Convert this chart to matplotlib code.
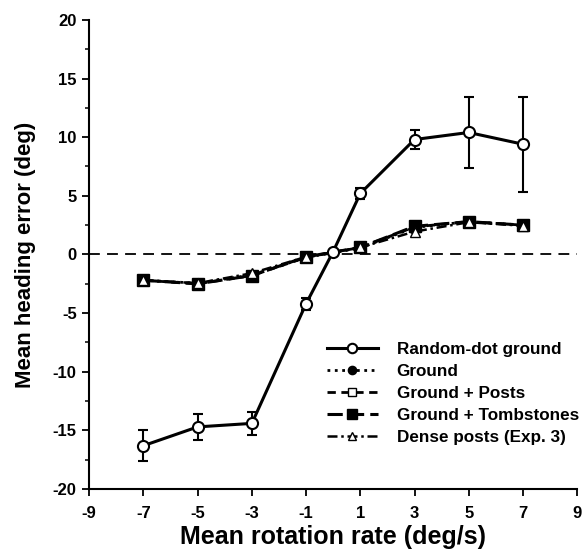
import matplotlib
matplotlib.use('Agg')
from matplotlib import pyplot as plt
from matplotlib.ticker import MultipleLocator

plt.rcParams['font.family'] = ['Liberation Sans', 'DejaVu Sans']
plt.rcParams['font.weight'] = 'bold'
plt.rcParams['axes.unicode_minus'] = False

# data
rot_rd = [-7, -5, -3, -1, 0, 1, 3, 5, 7]
err_rd = [-16.3, -14.7, -14.4, -4.2, 0.25, 5.2, 9.8, 10.4, 9.4]
sem_rd = [1.3, 1.1, 0.95, 0.5, 0.0, 0.45, 0.8, 3.05, 4.05]

rot = [-7, -5, -3, -1, 1, 3, 5, 7]
err_ground = [-2.2, -2.45, -1.75, -0.25, 0.55, 2.3, 2.8, 2.5]
err_posts = [-2.2, -2.5, -1.8, -0.25, 0.6, 2.35, 2.8, 2.5]
err_tomb = [-2.2, -2.5, -1.8, -0.2, 0.6, 2.4, 2.8, 2.5]
err_dense = [-2.2, -2.45, -1.6, -0.2, 0.6, 1.95, 2.75, 2.45]

xticks = [-9, -7, -5, -3, -1, 1, 3, 5, 7, 9]
yticks = [-20, -15, -10, -5, 0, 5, 10, 15, 20]


def main():
	fig = plt.figure(figsize=(5.83, 5.52), dpi=100)
	ax = fig.add_axes([0.153, 0.114, 0.837, 0.85])

	ax.axhline(0, color='black', lw=1.3, ls=(0, (6, 4)), zorder=1)

	l_ground, = ax.plot(rot, err_ground, color='black', lw=2, ls=':', marker='o', ms=7,
		mfc='black', mec='black', label='Ground', zorder=3)
	l_posts, = ax.plot(rot, err_posts, color='black', lw=2, ls=(0, (3, 2)), marker='s', ms=7,
		mfc='white', mec='black', label='Ground + Posts', zorder=3)
	l_tomb, = ax.plot(rot, err_tomb, color='black', lw=2.2, ls=(0, (5, 2)), marker='s', ms=8,
		mfc='black', mec='black', label='Ground + Tombstones', zorder=4)
	l_dense, = ax.plot(rot, err_dense, color='black', lw=1.8, ls=(0, (4, 1.5, 1, 1.5)), marker='^', ms=7,
		mfc='white', mec='black', label='Dense posts (Exp. 3)', zorder=5)

	eb = ax.errorbar(rot_rd, err_rd, yerr=sem_rd, color='black', lw=2.2, marker='o', ms=8,
		mfc='white', mec='black', mew=1.5, capsize=3.5, elinewidth=1.5, capthick=1.5,
		label='Random-dot ground', zorder=6)

	ax.set_xlim(-9, 9)
	ax.set_ylim(-20, 20)
	ax.set_xticks(xticks)
	ax.set_xticklabels([str(v) for v in xticks], fontsize=12, fontweight='bold')
	ax.set_yticks(yticks)
	ax.set_yticklabels([str(v) for v in yticks], fontsize=12, fontweight='bold')
	ax.yaxis.set_minor_locator(MultipleLocator(2.5))
	ax.tick_params(axis='both', which='major', width=1.3, length=5, direction='out')
	ax.tick_params(axis='x', which='major', pad=7)
	ax.tick_params(axis='y', which='major', pad=4)
	ax.tick_params(axis='y', which='minor', width=1.1, length=3, direction='out')

	ax.spines['top'].set_visible(False)
	ax.spines['right'].set_visible(False)
	ax.spines['left'].set_linewidth(1.5)
	ax.spines['bottom'].set_linewidth(1.5)

	ax.set_xlabel('Mean rotation rate (deg/s)', fontsize=18, fontweight='bold', labelpad=3)
	ax.set_ylabel('Mean heading error (deg)', fontsize=16, fontweight='bold', labelpad=12)

	# legend without the error bars on the first entry
	hs = [eb[0], l_ground, l_posts, l_tomb, l_dense]
	labs = ['Random-dot ground', 'Ground', 'Ground + Posts', 'Ground + Tombstones', 'Dense posts (Exp. 3)']
	leg = ax.legend(hs, labs,
		loc='upper left', bbox_to_anchor=(0.455, 0.347), frameon=False,
		fontsize=12.3, handlelength=3, handletextpad=1.1, labelspacing=0.42,
		markerscale=0.85)
	for t in leg.get_texts():
		t.set_fontweight('bold')

	fig.savefig('out.png', dpi=100)


if __name__ == '__main__':
	main()
